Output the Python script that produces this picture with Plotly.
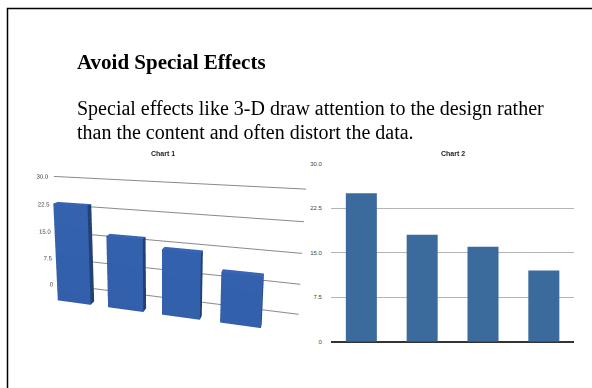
import plotly.graph_objects as go

# Data shared by both charts
categories = ["A", "B", "C", "D"]
values = [25, 18, 16, 12]
tick_vals = [0, 7.5, 15, 22.5, 30]
tick_text = ["0", "7.5", "15.0", "22.5", "30.0"]

title_text = "Avoid Special Effects"
body_lines = ["Special effects like 3-D draw attention to the design rather",
              "than the content and often distort the data."]

BAR_BLUE = "#3b6a9d"
BAR_BLUE_3D = "#3260ae"

fig = go.Figure()

# ---- Chart 1: perspective 3-D columns ----
half_w = 0.33
depth = (0.55, 0.7)
wall_y = 1.25


def box(xc, v):
    x0, x1 = xc - half_w, xc + half_w
    y0, y1 = depth
    xs = [x0, x1, x1, x0, x0, x1, x1, x0]
    ys = [y0, y0, y1, y1, y0, y0, y1, y1]
    zs = [0, 0, 0, 0, v, v, v, v]
    return go.Mesh3d(
        x=xs, y=ys, z=zs,
        i=[7, 0, 0, 0, 4, 4, 6, 6, 4, 0, 3, 2],
        j=[3, 4, 1, 2, 5, 6, 5, 2, 0, 1, 6, 3],
        k=[0, 7, 2, 3, 6, 7, 1, 1, 5, 5, 7, 6],
        color=BAR_BLUE_3D, flatshading=True,
        lighting=dict(ambient=0.65, diffuse=0.5, specular=0.2, roughness=0.6, fresnel=0.1),
        lightposition=dict(x=-300, y=-1000, z=-100),
        hoverinfo="skip", showscale=False, scene="scene",
    )


for idx, v in enumerate(values):
    fig.add_trace(box(idx, v))

x_left, x_right = -0.7, 3.9
for tv in tick_vals:
    fig.add_trace(go.Scatter3d(
        x=[x_left, x_right], y=[wall_y, wall_y], z=[tv, tv],
        mode="lines", line=dict(color="#8a8a8a", width=2),
        hoverinfo="skip", showlegend=False, scene="scene",
    ))
fig.add_trace(go.Scatter3d(
    x=[x_left] * len(tick_vals), y=[wall_y] * len(tick_vals), z=tick_vals,
    mode="text", text=tick_text, textposition="middle left",
    textfont=dict(family="Liberation Sans", size=6, color="#444"),
    hoverinfo="skip", showlegend=False, scene="scene",
))

hidden = dict(visible=False)
fig.update_layout(scene=dict(
    domain=dict(x=[0.0, 0.55], y=[0.0, 1.0]),
    xaxis=dict(hidden, range=[-1.0, 3.95]),
    yaxis=dict(hidden, range=[0, 1.3]),
    zaxis=dict(hidden, range=[0, 30]),
    aspectmode="manual", aspectratio=dict(x=5.0, y=1.3, z=2.2),
    camera=dict(eye=dict(x=2.38, y=-7.19, z=2.46), center=dict(x=0, y=0.6, z=0.88),
                up=dict(x=0, y=0, z=1)),
    bgcolor="rgba(0,0,0,0)",
))

# ---- Chart 2: flat columns ----
fig.add_trace(go.Bar(
    x=categories, y=values, marker=dict(color=BAR_BLUE, line=dict(width=0)),
    width=0.51, xaxis="x2", yaxis="y2", hoverinfo="skip", showlegend=False,
))
fig.update_layout(
    xaxis2=dict(domain=[0.559, 0.970], anchor="y2", showticklabels=False,
                showgrid=False, zeroline=False, showline=False, range=[-0.5, 3.5]),
    yaxis2=dict(domain=[0.1134, 0.5799], anchor="x2", range=[0, 30],
                tickvals=tick_vals, ticktext=tick_text, showgrid=True,
                gridcolor="#b4b4b4", gridwidth=1, zeroline=True, zerolinecolor="#333",
                zerolinewidth=1.5, ticklabelstandoff=8,
                tickfont=dict(family="Liberation Sans", size=6, color="#444")),
)

annotations = [
    dict(text="<b>" + title_text + "</b>", x=75, y=60, xanchor="left", yanchor="middle",
         font=dict(family="Liberation Serif", size=21, color="black")),
    dict(text=body_lines[0], x=75, y=107, xanchor="left", yanchor="middle",
         font=dict(family="Liberation Serif", size=20, color="black")),
    dict(text=body_lines[1], x=75, y=131, xanchor="left", yanchor="middle",
         font=dict(family="Liberation Serif", size=20, color="black")),
    dict(text="<b>Chart 1</b>", x=163, y=153, xanchor="center", yanchor="middle",
         font=dict(family="Liberation Sans", size=7, color="#222")),
    dict(text="<b>Chart 2</b>", x=453, y=153, xanchor="center", yanchor="middle",
         font=dict(family="Liberation Sans", size=7, color="#222")),
]
for a in annotations:
    a.update(xref="paper", yref="paper", showarrow=False)
    a["x"] = a["x"] / 592
    a["y"] = 1 - a["y"] / 388

fig.update_layout(
    annotations=annotations,
    shapes=[dict(type="rect", xref="paper", yref="paper",
                 x0=7.5 / 592, x1=1.05, y0=-0.05, y1=1 - 5.5 / 388,
                 line=dict(color="black", width=1.5))],
    width=592, height=388, margin=dict(l=0, r=0, t=0, b=0),
    paper_bgcolor="white", plot_bgcolor="white", showlegend=False,
    hovermode=False,
)

fig.write_html("out.html", config=dict(displayModeBar=False))
